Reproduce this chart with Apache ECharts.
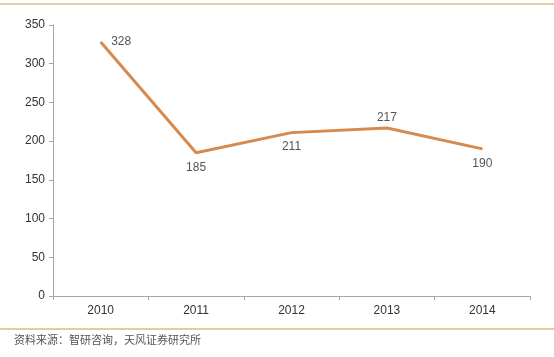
<!DOCTYPE html>
<html><head><meta charset="utf-8">
<script src="https://cdn.jsdelivr.net/npm/echarts@6/dist/echarts.min.js"></script>
<style>html,body{margin:0;padding:0;background:#fff}#c{width:554px;height:357px}</style>
</head><body><div id="c"></div>
<script>
const categories = ['2010','2011','2012','2013','2014'];
const values = [328,185,211,217,190];
const labelPos = ['right','bottom','bottom','top','bottom'];
const yTicks = [0,50,100,150,200,250,300,350];

const chart = echarts.init(document.getElementById('c'));
chart.setOption({
  animation:false,
  backgroundColor:'#fff',
  grid:{left:53,right:24,top:25,bottom:61},
  xAxis:{type:'category',data:categories,boundaryGap:true,
    axisLine:{lineStyle:{color:'#a6a6a6',width:1}},
    axisTick:{show:true,length:4,lineStyle:{color:'#a6a6a6'}},
    axisLabel:{color:'#333',fontSize:12,fontFamily:'Liberation Sans',margin:9}},
  yAxis:{type:'value',min:0,max:350,interval:50,
    axisLine:{show:true,lineStyle:{color:'#a6a6a6'}},
    axisTick:{show:true,length:4,lineStyle:{color:'#a6a6a6'}},
    splitLine:{show:false},
    axisLabel:{color:'#333',fontSize:12,fontFamily:'Liberation Sans',margin:8}},
  series:[{type:'line',data:values.map((v,i)=>({value:v,label:{position:labelPos[i],distance:labelPos[i]==='top'?4:(labelPos[i]==='right'?10:8)}})),
    symbol:'circle',symbolSize:1,showSymbol:true,
    itemStyle:{color:'#d68a4e'},
    lineStyle:{color:'#d68a4e',width:3},
    label:{show:true,color:'#555',fontSize:12,fontFamily:'Liberation Sans'}}],
  graphic:[
    {type:'line',shape:{x1:0,y1:4,x2:554,y2:4},style:{stroke:'#e0b98a',lineWidth:1.5}},
    {type:'line',shape:{x1:0,y1:329,x2:554,y2:329},style:{stroke:'#e8c9a0',lineWidth:2}},
    {type:'text',left:14,top:334,style:{text:'资料来源：智研咨询，天风证券研究所',fill:'#555',font:'11px "Noto Sans CJK SC"'}}
  ]
});
</script></body></html>
